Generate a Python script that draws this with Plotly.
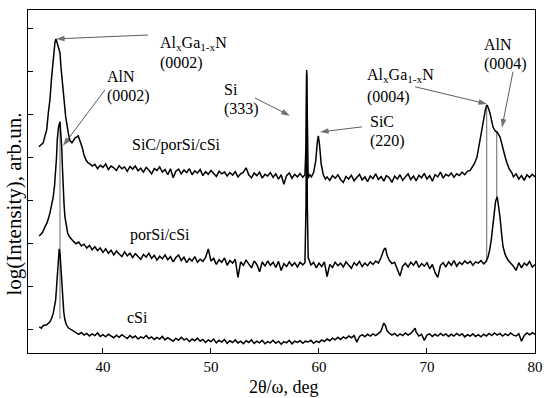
import plotly.graph_objects as go

# ---------------- data (2theta in deg, log intensity in arb. units) ----------------
top_2theta = [
    34.07, 34.30, 34.47, 34.63, 34.79, 34.94, 35.09, 35.25, 35.40, 35.56, 35.65, 35.76, 35.86, 36.02,
    36.11, 36.32, 36.55, 36.79, 36.94, 37.13, 37.41, 37.71, 37.87, 38.06, 38.24, 38.43, 38.64,
    38.75, 39.00, 39.25, 39.50, 39.75, 40.00, 40.25, 40.50, 40.75, 41.00, 41.25, 41.50, 41.75, 42.00,
    42.25, 42.50, 42.75, 43.00, 43.25, 43.50, 43.75, 44.00, 44.25, 44.50, 44.75, 45.00, 45.25, 45.50,
    45.75, 46.00, 46.25, 46.50, 46.75, 47.00, 47.25, 47.50, 47.75, 48.00, 48.25, 48.50, 48.75, 49.00,
    49.25, 49.50, 49.75, 50.00, 50.25, 50.50, 50.75, 51.00, 51.25, 51.50, 51.75, 52.00, 52.25, 52.50,
    52.75, 53.00, 53.25, 53.50, 53.75, 54.00, 54.25, 54.50, 54.75, 55.00, 55.25, 55.50, 55.75, 56.00,
    56.25, 56.50, 56.75, 57.00, 57.25, 57.50, 57.75, 58.00, 58.25, 58.50,
    58.70, 58.80, 58.86, 58.92, 59.00, 59.15, 59.30,
    59.50, 59.70, 59.85, 59.94, 60.05, 60.20, 60.40, 60.60,
    60.75, 61.00, 61.25, 61.50, 61.75, 62.00, 62.25, 62.50, 62.75, 63.00, 63.25, 63.50, 63.75, 64.00,
    64.25, 64.50, 64.75, 65.00, 65.25, 65.50, 65.75, 66.00, 66.25, 66.50, 66.75, 67.00, 67.25, 67.50,
    67.75, 68.00, 68.25, 68.50, 68.75, 69.00, 69.25, 69.50, 69.75, 70.00, 70.25, 70.50, 70.75, 71.00,
    71.25, 71.50, 71.75, 72.00, 72.25, 72.50, 72.75, 73.00, 73.25, 73.50, 73.75,
    74.00, 74.17, 74.40, 74.63, 74.90, 75.19, 75.40, 75.53, 75.65, 75.83, 76.11, 76.30, 76.48, 76.76,
    77.04, 77.25, 77.41, 77.60, 77.87,
    78.00, 78.25, 78.50, 78.75, 79.00, 79.25, 79.50, 79.75, 80.00,
]
top_intensity = [
    5.25, 5.29, 5.34, 5.50, 5.64, 6.03, 6.34, 6.87, 7.33, 7.68, 7.75, 7.64, 7.57, 7.43,
    7.10, 6.50, 5.94, 5.57, 5.39, 5.34, 5.45, 5.50, 5.39, 5.25, 5.06, 4.94, 4.87,
    4.86, 4.80, 4.84, 4.74, 4.82, 4.77, 4.85, 4.72, 4.80, 4.76, 4.70, 4.81, 4.74, 4.78,
    4.68, 4.79, 4.73, 4.80, 4.69, 4.75, 4.66, 4.77, 4.71, 4.62, 4.74, 4.70, 4.78, 4.66,
    4.72, 4.60, 4.74, 4.53, 4.68, 4.73, 4.62, 4.71, 4.65, 4.74, 4.60, 4.69, 4.64, 4.72,
    4.58, 4.67, 4.61, 4.70, 4.63, 4.56, 4.68, 4.62, 4.66, 4.57, 4.65, 4.59, 4.67, 4.55,
    4.62, 4.66, 4.76, 4.60, 4.53, 4.64, 4.58, 4.66, 4.52, 4.61, 4.57, 4.65, 4.54, 4.62,
    4.50, 4.60, 4.38, 4.58, 4.64, 4.52, 4.61, 4.55, 4.63, 4.54,
    4.60, 5.30, 7.03, 5.30, 4.52, 4.60, 4.55,
    4.65, 4.92, 5.36, 5.50, 5.30, 4.85, 4.60, 4.50,
    4.55, 4.47, 4.58, 4.52, 4.60, 4.49, 4.42, 4.56, 4.50, 4.59, 4.46, 4.54, 4.61, 4.48,
    4.55, 4.44, 4.57, 4.51, 4.62, 4.49, 4.56, 4.45, 4.58, 4.53, 4.42, 4.57, 4.50, 4.60,
    4.47, 4.55, 4.62, 4.49, 4.57, 4.46, 4.59, 4.53, 4.63, 4.50, 4.58, 4.45, 4.60, 4.55,
    4.66, 4.52, 4.61, 4.57, 4.64, 4.54, 4.62, 4.58, 4.66, 4.60, 4.68,
    4.70, 4.78, 4.86, 5.01, 5.41, 5.80, 6.10, 6.22, 6.17, 6.03, 5.71, 5.62, 5.59, 5.48,
    5.18, 5.00, 4.87, 4.74, 4.64,
    4.55, 4.62, 4.50, 4.58, 4.47, 4.60, 4.54, 4.61, 4.55,
]

mid_2theta = [
    34.10, 34.40, 34.63, 34.85, 35.09, 35.25, 35.40, 35.52, 35.62, 35.70, 35.77, 35.88, 36.02, 36.10,
    36.18, 36.25, 36.32, 36.40, 36.48, 36.60, 36.73, 36.90, 37.10,
    37.25, 37.50, 37.75, 38.00, 38.25, 38.50, 38.75, 39.00, 39.25, 39.50, 39.75, 40.00, 40.25, 40.50,
    40.75, 41.00, 41.25, 41.50, 41.75, 42.00, 42.25, 42.50, 42.75, 43.00, 43.25, 43.50, 43.75, 44.00,
    44.25, 44.50, 44.75, 45.00, 45.25, 45.50, 45.75, 46.00, 46.25, 46.50, 46.75, 47.00, 47.25, 47.50,
    47.75, 48.00, 48.25, 48.50, 48.75, 49.00, 49.25, 49.50, 49.75, 50.00, 50.25, 50.50, 50.75, 51.00,
    51.25, 51.50, 51.75, 52.00, 52.25, 52.50, 52.75, 53.00, 53.25, 53.50, 53.75, 54.00, 54.25, 54.50,
    54.75, 55.00, 55.25, 55.50, 55.75, 56.00, 56.25, 56.50, 56.75, 57.00, 57.25, 57.50, 57.75, 58.00,
    58.25, 58.50,
    58.70, 58.80, 58.86, 58.92, 59.00, 59.15,
    59.25, 59.50, 59.75, 60.00, 60.25, 60.50, 60.75, 61.00, 61.25, 61.50, 61.75, 62.00, 62.25, 62.50,
    62.75, 63.00, 63.25, 63.50, 63.75, 64.00, 64.25, 64.50, 64.75, 65.00, 65.25, 65.50, 65.75, 66.00,
    66.15, 66.30, 66.50, 66.75, 67.00, 67.25, 67.50, 67.75, 68.00, 68.25, 68.50, 68.75, 69.00, 69.25,
    69.50, 69.75, 70.00, 70.25, 70.50, 70.75, 71.00, 71.25, 71.50, 71.75, 72.00, 72.25, 72.50, 72.75,
    73.00, 73.25, 73.50, 73.75, 74.00, 74.25, 74.50, 74.75, 75.00, 75.25,
    75.45, 75.65, 75.80, 75.95, 76.10, 76.20, 76.35, 76.50, 76.62, 76.76, 76.90, 77.04, 77.25, 77.50,
    77.75,
    78.00, 78.25, 78.50, 78.75, 79.00, 79.25, 79.50, 79.75, 80.00,
]
mid_intensity = [
    3.18, 3.26, 3.39, 3.50, 3.71, 3.88, 4.09, 4.35, 4.64, 5.00, 5.41, 5.70, 5.83, 5.62,
    5.25, 4.75, 4.25, 3.90, 3.62, 3.40, 3.25, 3.16, 3.09,
    3.06, 3.00, 3.04, 2.95, 2.99, 2.90, 2.96, 2.86, 2.93, 2.84, 2.90, 2.80, 2.88, 2.78,
    2.85, 2.74, 2.83, 2.76, 2.70, 2.81, 2.72, 2.78, 2.68, 2.77, 2.71, 2.64, 2.75, 2.69,
    2.78, 2.66, 2.73, 2.62, 2.71, 2.65, 2.74, 2.63, 2.70, 2.58, 2.68, 2.74, 2.61, 2.69,
    2.56, 2.66, 2.60, 2.70, 2.57, 2.64, 2.59, 2.68, 2.88, 2.60, 2.66, 2.52, 2.63, 2.57,
    2.67, 2.50, 2.61, 2.55, 2.64, 2.22, 2.58, 2.50, 2.62, 2.53, 2.44, 2.60, 2.52, 2.35,
    2.58, 2.48, 2.60, 2.50, 2.57, 2.45, 2.59, 2.38, 2.54, 2.47, 2.58, 2.49, 2.56, 2.46,
    2.57, 2.51,
    2.56, 3.90, 6.95, 3.90, 2.68, 2.58,
    2.50, 2.57, 2.44, 2.55, 2.47, 2.58, 2.24, 2.52, 2.45, 2.57, 2.49, 2.55, 2.46, 2.58,
    2.51, 2.43, 2.56, 2.50, 2.59, 2.47, 2.55, 2.49, 2.58, 2.52, 2.60, 2.55, 2.68, 2.86,
    2.90, 2.74, 2.62, 2.54, 2.57, 2.40, 2.25, 2.48, 2.55, 2.46, 2.57, 2.50, 2.60, 2.45,
    2.54, 2.48, 2.56, 2.42, 2.52, 2.33, 2.22, 2.50, 2.56, 2.46, 2.58, 2.50, 2.61, 2.48,
    2.57, 2.52, 2.60, 2.54, 2.59, 2.50, 2.58, 2.55, 2.61, 2.53,
    2.58, 2.69, 2.85, 3.09, 3.40, 3.71, 3.98, 4.09, 3.90, 3.62, 3.25, 2.93, 2.74, 2.62,
    2.55,
    2.48, 2.38, 2.56, 2.44, 2.55, 2.50, 2.59, 2.46, 2.52,
]

bot_2theta = [
    34.10, 34.30, 34.45, 34.79, 35.09, 35.25, 35.40, 35.52, 35.62, 35.70, 35.77, 35.86, 35.95, 36.03,
    36.11, 36.19, 36.27, 36.37, 36.48, 36.62, 36.79, 37.00, 37.25,
    37.50, 37.75, 38.00, 38.25, 38.50, 38.75, 39.00, 39.25, 39.50, 39.75, 40.00, 40.25, 40.50, 40.75,
    41.00, 41.25, 41.50, 41.75, 42.00, 42.25, 42.50, 42.75, 43.00, 43.25, 43.50, 43.75, 44.00, 44.25,
    44.50, 44.75, 45.00, 45.25, 45.50, 45.75, 46.00, 46.25, 46.50, 46.75, 47.00, 47.25, 47.50, 47.75,
    48.00, 48.25, 48.50, 48.75, 49.00, 49.25, 49.50, 49.75, 50.00, 50.25, 50.50, 50.75, 51.00, 51.25,
    51.50, 51.75, 52.00, 52.25, 52.50, 52.75, 53.00, 53.25, 53.50, 53.75, 54.00, 54.25, 54.50, 54.75,
    55.00, 55.25, 55.50, 55.75, 56.00, 56.25, 56.50, 56.75, 57.00, 57.25, 57.50, 57.75, 58.00, 58.25,
    58.50, 58.75, 59.00, 59.25, 59.50, 59.75, 60.00, 60.25, 60.50, 60.75, 61.00, 61.25, 61.50, 61.75,
    62.00, 62.25, 62.50, 62.75, 63.00, 63.25, 63.50, 63.75, 64.00, 64.25, 64.50, 64.75, 65.00, 65.25,
    65.50,
    65.70, 65.85, 66.00, 66.15, 66.30, 66.50,
    66.75, 67.00, 67.25, 67.50, 67.75, 68.00, 68.25, 68.50, 68.75, 68.90, 69.00, 69.25, 69.50, 69.75,
    70.00, 70.25, 70.50, 70.75, 71.00, 71.25, 71.50, 71.75, 72.00, 72.25, 72.50, 72.75, 73.00, 73.25,
    73.50, 73.75, 74.00, 74.25, 74.50, 74.75, 75.00, 75.25, 75.50, 75.75, 76.00, 76.25, 76.50, 76.75,
    77.00, 77.25, 77.50, 77.75, 78.00, 78.25, 78.50, 78.75, 79.00, 79.25, 79.50, 79.75, 80.00,
]
bot_intensity = [
    1.07, 1.04, 1.10, 1.12, 1.19, 1.27, 1.39, 1.52, 1.70, 1.98, 2.32, 2.65, 2.88, 2.75,
    2.46, 2.08, 1.70, 1.42, 1.23, 1.12, 1.05, 1.02, 0.98,
    0.95, 0.90, 0.94, 0.88, 0.92, 0.86, 0.91, 0.87, 0.93, 0.85, 0.89, 0.84, 0.90, 0.86,
    0.82, 0.88, 0.83, 0.89, 0.84, 0.80, 0.87, 0.82, 0.86, 0.79, 0.84, 0.81, 0.87, 0.80,
    0.84, 0.78, 0.83, 0.79, 0.85, 0.77, 0.82, 0.78, 0.74, 0.81, 0.76, 0.83, 0.77, 0.80,
    0.73, 0.79, 0.75, 0.81, 0.74, 0.78, 0.71, 0.77, 0.73, 0.79, 0.70, 0.76, 0.72, 0.78,
    0.69, 0.75, 0.71, 0.77, 0.70, 0.74, 0.68, 0.75, 0.71, 0.77, 0.69, 0.74, 0.70, 0.76,
    0.68, 0.73, 0.70, 0.76, 0.69, 0.74, 0.67, 0.73, 0.70, 0.76, 0.68, 0.74, 0.71, 0.75,
    0.69, 0.74, 0.72, 0.76, 0.69, 0.74, 0.71, 0.77, 0.73, 0.79, 0.75, 0.81, 0.77, 0.83,
    0.78, 0.84, 0.80, 0.86, 0.82, 0.87, 0.72, 0.85, 0.89, 0.84, 0.90, 0.86, 0.91, 0.87,
    0.92,
    0.96, 1.05, 1.16, 1.10, 0.98, 0.93,
    0.88, 0.92, 0.86, 0.91, 0.87, 0.93, 0.88, 0.92, 0.98, 1.04, 0.95, 0.86, 0.90, 0.76,
    0.88, 0.91, 0.85, 0.90, 0.86, 0.92, 0.87, 0.91, 0.85, 0.90, 0.86, 0.92, 0.87, 0.91,
    0.84, 0.89, 0.86, 0.91, 0.85, 0.89, 0.84, 0.90, 0.86, 0.92, 0.87, 0.93, 0.88, 0.92,
    0.86, 0.91, 0.87, 0.93, 0.88, 0.86, 0.91, 0.74, 0.87, 0.93, 0.89, 0.94, 0.90,
]

x_ticks = [40, 50, 60, 70, 80]
y_ticks = [1, 2, 3, 4, 5, 6, 7, 8]

sample_labels = ["SiC/porSi/cSi", "porSi/cSi", "cSi"]
sample_label_pos = [(46.85, 5.29), (45.28, 3.20), (43.24, 1.30)]

# peak labels: (text line 1, text line 2, left x, y line1, y line2, arrow tail, arrow head)
peak_labels = [
    ("Al<sub>x</sub>Ga<sub>1-x</sub>N", "(0002)", 45.09, 7.64, 7.19, (44.17, 7.84), (35.65, 7.75)),
    ("AlN", "(0002)", 40.19, 6.87, 6.43, (40.19, 6.57), (36.30, 5.27)),
    ("Si", "(333)", 51.02, 6.57, 6.13, (54.07, 6.38), (57.31, 5.97)),
    ("SiC", "(220)", 64.54, 5.83, 5.39, (63.98, 5.71), (60.09, 5.59)),
    ("Al<sub>x</sub>Ga<sub>1-x</sub>N", "(0004)", 64.26, 6.90, 6.41, (68.89, 6.64), (75.56, 6.24)),
    ("AlN", "(0004)", 75.09, 7.61, 7.17, (77.96, 6.99), (76.94, 5.69)),
]

# vertical guide lines: (2theta, y from, y to)
guide_lines = [(36.02, 5.83, 1.26), (75.53, 6.20, 2.58), (76.46, 5.59, 4.09)]

FONT = "Liberation Serif, Times New Roman, serif"

fig = go.Figure()
for gx, gy0, gy1 in guide_lines:
    fig.add_trace(go.Scatter(x=[gx, gx], y=[gy0, gy1], mode="lines",
                             line=dict(color="#555555", width=0.9), showlegend=False,
                             hoverinfo="skip"))
for xs, ys in [(top_2theta, top_intensity), (mid_2theta, mid_intensity), (bot_2theta, bot_intensity)]:
    fig.add_trace(go.Scatter(x=xs, y=ys, mode="lines",
                             line=dict(color="black", width=1.5), showlegend=False))

# arrows (line + arrow-head marker pointing along the segment)
for t1, t2, lx, y1, y2, tail, head in peak_labels:
    fig.add_trace(go.Scatter(x=[tail[0], head[0]], y=[tail[1], head[1]], mode="lines+markers",
                             line=dict(color="#333333", width=0.8),
                             marker=dict(symbol="arrow", angleref="previous", size=[0, 9],
                                         color="#333333", line=dict(width=0)),
                             showlegend=False, hoverinfo="skip"))

ann = []
for lab, (lx, ly) in zip(sample_labels, sample_label_pos):
    ann.append(dict(x=lx, y=ly, xref="x", yref="y", text=lab, showarrow=False,
                    font=dict(family=FONT, size=16, color="black")))
for t1, t2, lx, y1, y2, tail, head in peak_labels:
    ann.append(dict(x=lx, y=y1, xref="x", yref="y", text=t1, showarrow=False, xanchor="left",
                    font=dict(family=FONT, size=16, color="black")))
    ann.append(dict(x=lx, y=y2, xref="x", yref="y", text=t2, showarrow=False, xanchor="left",
                    font=dict(family=FONT, size=16, color="black")))
# axis titles
ann.append(dict(x=0.503, y=-0.099, xref="paper", yref="paper", text="2θ/ω, deg", showarrow=False,
                font=dict(family=FONT, size=18, color="black"), yanchor="middle"))
ann.append(dict(x=-0.028, y=0.435, xref="paper", yref="paper", text="log(Intensity), arb.un.",
                showarrow=False, textangle=-90, font=dict(family=FONT, size=21, color="black"),
                xanchor="center", yanchor="middle"))

fig.update_layout(
    width=550, height=398,
    margin=dict(l=28, r=15, t=10, b=45),
    paper_bgcolor="white", plot_bgcolor="white",
    annotations=ann,
    xaxis=dict(range=[33.06, 80], tickvals=x_ticks, ticks="inside", ticklen=5, tickwidth=1,
               tickcolor="black", showline=True, linecolor="black", linewidth=1.2, mirror=True,
               showgrid=False, zeroline=False, automargin=False,
               tickfont=dict(family=FONT, size=15, color="black")),
    yaxis=dict(range=[0.466, 8.42], tickvals=y_ticks, ticks="inside", ticklen=5, tickwidth=1,
               tickcolor="black", showticklabels=False, showline=True, linecolor="black",
               linewidth=1.2, mirror=True, showgrid=False, zeroline=False, automargin=False),
)

fig.write_html("out.html", config={"displayModeBar": False},
               post_script="document.body.style.margin='0';")
